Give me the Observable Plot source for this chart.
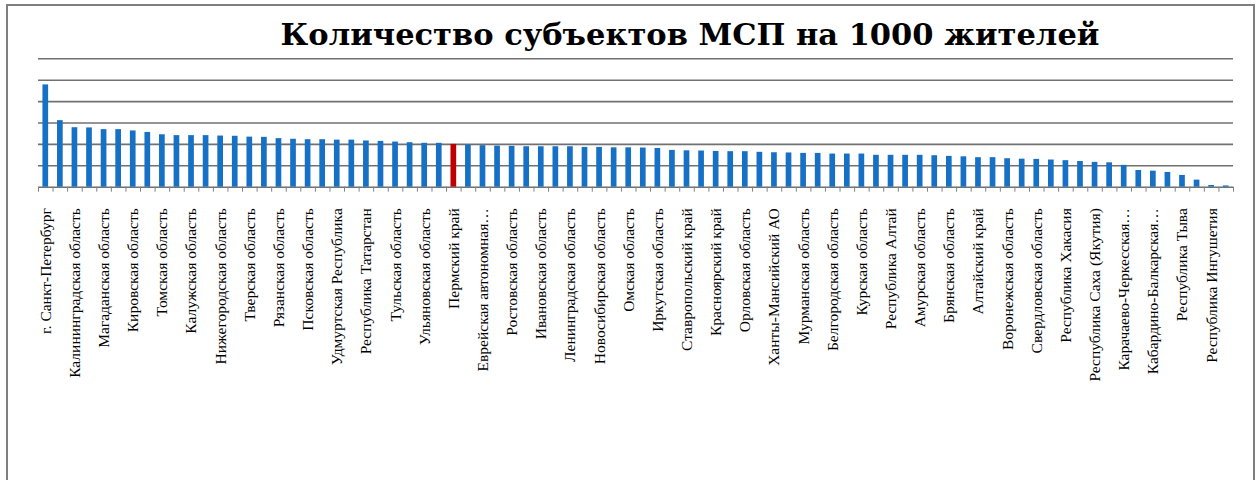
<!DOCTYPE html>
<html>
<head>
<meta charset="utf-8">
<script src="https://cdn.jsdelivr.net/npm/d3@7"></script>
<script src="https://cdn.jsdelivr.net/npm/@observablehq/plot@0.6"></script>
<style>
  body { margin: 0; background: #fff; }
  #wrap { position: relative; width: 1259px; height: 480px; overflow: hidden; background: #fff; }
  #frame { position: absolute; left: 6px; top: 4px; width: 1249px; height: 520px; border: 2px solid #7f7f7f; box-sizing: border-box; }
  #title { position: absolute; left: 121px; width: 1138px; top: 19px; text-align: center;
           font-family: "DejaVu Serif", serif; font-weight: bold; font-size: 30.5px; line-height: 30px; color: #000; white-space: nowrap; }
  #chart { position: absolute; left: 0; top: 50px; }
</style>
</head>
<body>
<div id="wrap">
  <div id="frame"></div>
  <div id="title">Количество субъектов МСП на 1000 жителей</div>
  <div id="chart"></div>
</div>
<script>
const regions = [
  "г. Санкт-Петербург", "г. Москва", "Калининградская область", "Новгородская область",
  "Магаданская область", "Ярославская область", "Кировская область", "Приморский край",
  "Томская область", "Самарская область", "Калужская область", "Вологодская область",
  "Нижегородская область", "Костромская область", "Тверская область", "Смоленская область",
  "Рязанская область", "Челябинская область", "Псковская область", "Архангельская область",
  "Удмуртская Республика", "Краснодарский край", "Республика Татарстан", "Республика Карелия",
  "Тульская область", "Владимирская область", "Ульяновская область", "Пензенская область",
  "Пермский край", "Хабаровский край", "Еврейская автономная область", "Камчатский край",
  "Ростовская область", "Липецкая область", "Ивановская область", "Московская область",
  "Ленинградская область", "Оренбургская область", "Новосибирская область", "Курганская область",
  "Омская область", "Сахалинская область", "Иркутская область", "Тамбовская область",
  "Ставропольский край", "Республика Коми", "Красноярский край", "Саратовская область",
  "Орловская область", "Тюменская область", "Ханты-Мансийский АО", "Астраханская область",
  "Мурманская область", "Республика Бурятия", "Белгородская область", "Волгоградская область",
  "Курская область", "Республика Марий Эл", "Республика Алтай", "Республика Башкортостан",
  "Амурская область", "Кемеровская область", "Брянская область", "Чувашская Республика",
  "Алтайский край", "Республика Мордовия", "Воронежская область", "Забайкальский край",
  "Свердловская область", "Республика Адыгея", "Республика Хакасия", "Республика Калмыкия",
  "Республика Саха (Якутия)", "Ямало-Ненецкий АО", "Карачаево-Черкесская Республика", "Ненецкий АО",
  "Кабардино-Балкарская Республика", "Республика Северная Осетия – Алания", "Республика Тыва", "Республика Дагестан",
  "Республика Ингушетия", "Чеченская Республика"
];
const smePer1000 = [
  47.8, 31.1, 27.8, 27.7, 26.9, 26.9, 26.3, 25.6, 24.5, 24.1,
  24.1, 24.1, 23.9, 23.8, 23.4, 23.3, 22.7, 22.4, 22.2, 22.2,
  22.0, 22.0, 21.6, 21.4, 21.1, 20.8, 20.5, 20.5, 20.0, 19.7,
  19.4, 19.2, 19.1, 18.9, 18.9, 18.9, 18.9, 18.6, 18.6, 18.4,
  18.4, 18.3, 18.1, 17.2, 17.0, 16.9, 16.7, 16.6, 16.6, 16.3,
  16.1, 16.0, 15.8, 15.8, 15.5, 15.5, 15.5, 14.9, 14.9, 14.9,
  14.9, 14.7, 14.4, 14.2, 13.8, 13.8, 13.3, 13.1, 13.0, 12.7,
  12.4, 12.0, 11.6, 11.4, 10.2, 7.8, 7.5, 6.9, 5.5, 3.3,
  0.8, 0.6
];
const highlight = "Пермский край";
const gridValues = [0, 10, 20, 30, 40, 50, 60];
const labelledRegions = regions.filter((d, i) => i % 2 === 0);

const W = 1259, ML = 38, MR = 26, H = 430;
const step = (W - ML - MR) / regions.length;
const table = regions.map((r, i) => ({region: r, value: smePer1000[i]}));
const shortName = d => {
  if (d.length <= 26) return d;
  const cut = d.lastIndexOf(" ");
  return d.slice(0, cut) + "…";
};

const chart = Plot.plot({
  width: W,
  height: H,
  marginTop: 8.3,
  marginBottom: 293.3,
  marginLeft: ML,
  marginRight: MR,
  style: {fontFamily: "'Liberation Serif', 'Times New Roman', serif", fontSize: "15.5px", color: "#000", background: "transparent"},
  x: {domain: regions, paddingInner: 0.61, paddingOuter: 0.305, label: null},
  y: {domain: [0, 60], axis: null},
  marks: [
    Plot.ruleY(gridValues, {stroke: "#717171", strokeWidth: 1.6}),
    Plot.barY(table, {filter: d => d.region !== highlight, x: "region", y: "value", fill: "#1570c6"}),
    Plot.barY(table, {filter: d => d.region === highlight, x: "region", y: "value", fill: "#c00000"}),
    Plot.axisX(regions, {tickSize: 5, fill: "none", stroke: "#808080", dx: -step / 2, label: null}),
    Plot.axisX([regions[regions.length - 1]], {tickSize: 5, fill: "none", stroke: "#808080", dx: step / 2, label: null}),
    Plot.axisX(labelledRegions, {tickSize: 0, tickPadding: 21, tickRotate: -90, tickFormat: shortName, label: null})
  ]
});
document.getElementById("chart").appendChild(chart);
</script>
</body>
</html>
